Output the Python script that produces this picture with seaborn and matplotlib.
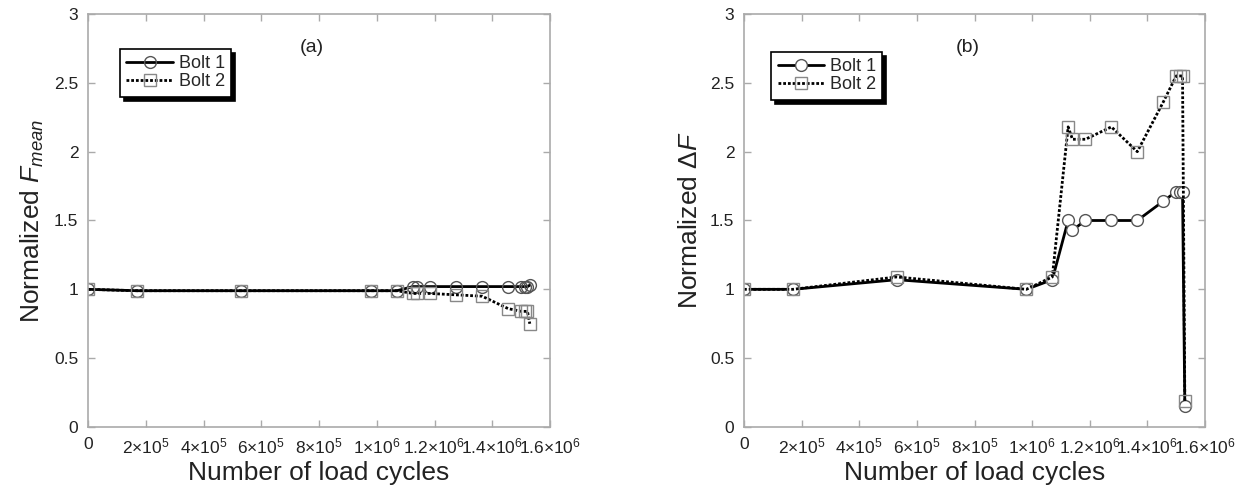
import numpy as np
import pandas as pd
import matplotlib
matplotlib.use("Agg")
import matplotlib.pyplot as plt
import seaborn as sns

# load cycles (shared by both panels)
cycles = [0, 1.7e5, 5.3e5, 9.8e5, 1.07e6, 1.125e6, 1.14e6, 1.185e6,
          1.275e6, 1.365e6, 1.455e6, 1.50e6, 1.512e6, 1.522e6, 1.53e6]

# (a) normalized mean force
fmean_bolt1 = [1.0, 0.99, 0.99, 0.99, 0.99, 1.02, 1.02, 1.02,
               1.02, 1.02, 1.02, 1.02, 1.02, 1.02, 1.03]
fmean_bolt2 = [1.0, 0.99, 0.99, 0.99, 0.99, 0.97, 0.97, 0.97,
               0.96, 0.95, 0.86, 0.84, 0.84, 0.84, 0.75]

# (b) normalized force amplitude
dF_bolt1 = [1.0, 1.0, 1.07, 1.0, 1.07, 1.5, 1.43, 1.5,
            1.5, 1.5, 1.64, 1.71, 1.71, 1.71, 0.15]
dF_bolt2 = [1.0, 1.0, 1.09, 1.0, 1.09, 2.18, 2.09, 2.09,
            2.18, 2.0, 2.36, 2.55, 2.55, 2.55, 0.19]

xticks = [0, 2e5, 4e5, 6e5, 8e5, 1e6, 1.2e6, 1.4e6, 1.6e6]
xticklabels = ["0", "2×10$^5$", "4×10$^5$", "6×10$^5$", "8×10$^5$",
               "1×10$^6$", "1.2×10$^6$", "1.4×10$^6$", "1.6×10$^6$"]
yticks = [0, 0.5, 1, 1.5, 2, 2.5, 3]
yticklabels = ["0", "0.5", "1", "1.5", "2", "2.5", "3"]

sns.set_theme(style="ticks")
plt.rcParams["font.family"] = ["Liberation Sans", "DejaVu Sans"]
plt.rcParams["mathtext.fontset"] = "custom"
plt.rcParams["mathtext.rm"] = "Liberation Sans"
plt.rcParams["mathtext.it"] = "Liberation Sans:italic"

fig = plt.figure(figsize=(12.46, 4.94), dpi=100)
ax_a = fig.add_axes([88 / 1246, 67 / 494, 462 / 1246, 413 / 494])
ax_b = fig.add_axes([744 / 1246, 67 / 494, 461 / 1246, 413 / 494])

df_a = pd.DataFrame({"cycles": cycles, "b1": fmean_bolt1, "b2": fmean_bolt2})
df_b = pd.DataFrame({"cycles": cycles, "b1": dF_bolt1, "b2": dF_bolt2})

panels = [(ax_a, df_a, "none", "Normalized $F_{mean}$", "(a)", 0.069, 0.915),
          (ax_b, df_b, "white", "Normalized $\\mathit{ΔF}$", "(b)", 0.059, 0.908)]

for ax, df, mfc, ylab, tag, lx, ly in panels:
    sns.lineplot(data=df, x="cycles", y="b1", ax=ax, sort=False, estimator=None,
                 color="black", lw=2, marker="o", ms=8.5, mfc=mfc,
                 mec="#555555", mew=1.0, label="Bolt 1")
    sns.lineplot(data=df, x="cycles", y="b2", ax=ax, sort=False, estimator=None,
                 color="black", lw=2, ls=(0, (1, 0.7)), marker="s", ms=8.5,
                 mfc="none", mec="#888888", mew=1.0, label="Bolt 2")
    ax.set_xlim(0, 1.6e6)
    ax.set_ylim(0, 3)
    ax.set_xticks(xticks)
    ax.set_xticklabels(xticklabels)
    ax.set_yticks(yticks)
    ax.set_yticklabels(yticklabels)
    ax.tick_params(direction="in", top=True, right=True, length=5, width=1,
                   color="#aaaaaa", labelsize=12.5, pad=7, labelcolor="#222222")
    for sp in ax.spines.values():
        sp.set_visible(True)
        sp.set_color("#aaaaaa")
        sp.set_linewidth(1.2)
    ax.set_xlabel("Number of load cycles", fontsize=19, labelpad=3, color="#222222")
    ax.set_ylabel(ylab, fontsize=19, labelpad=6, color="#222222")
    ax.text(0.485, 0.918, tag, transform=ax.transAxes, ha="center", va="center",
            fontsize=14, color="#222222")
    leg = ax.legend(loc="upper left", bbox_to_anchor=(lx, ly),
                    fancybox=False, shadow={"color": "black", "alpha": 1, "ox": 3, "oy": -3},
                    framealpha=1, edgecolor="black", fontsize=13, handlelength=2.6,
                    handletextpad=0.3, labelspacing=0.05, borderpad=0.35,
                    borderaxespad=0)
    leg.get_frame().set_linewidth(1.2)

fig.savefig("out.png", dpi=100)
